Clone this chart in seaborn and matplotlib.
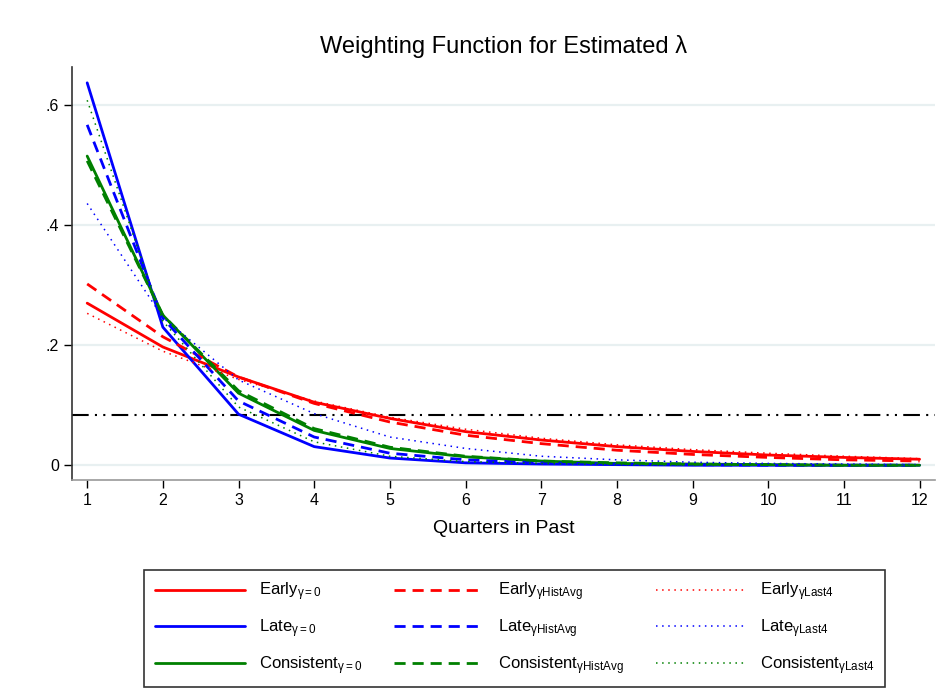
import matplotlib
matplotlib.use("Agg")
import matplotlib.pyplot as plt
import matplotlib.font_manager as fm
import seaborn as sns
import pandas as pd

# Quarters back in time
quarters = [1, 2, 3, 4, 5, 6, 7, 8, 9, 10, 11, 12]

# Weights by investor group, under three gamma assumptions
early_g0 = [0.270, 0.197, 0.147, 0.105, 0.078, 0.056, 0.042, 0.031, 0.023, 0.017, 0.013, 0.010]
early_hist = [0.302, 0.214, 0.147, 0.103, 0.072, 0.050, 0.036, 0.025, 0.018, 0.013, 0.009, 0.007]
early_last4 = [0.253, 0.190, 0.143, 0.107, 0.080, 0.060, 0.045, 0.034, 0.026, 0.020, 0.015, 0.011]

late_g0 = [0.637, 0.230, 0.085, 0.031, 0.012, 0.004, 0.002, 0.001, 0.000, 0.000, 0.000, 0.000]
late_hist = [0.567, 0.245, 0.107, 0.047, 0.020, 0.009, 0.004, 0.002, 0.001, 0.000, 0.000, 0.000]
late_last4 = [0.436, 0.246, 0.142, 0.086, 0.047, 0.028, 0.015, 0.009, 0.005, 0.003, 0.002, 0.001]

cons_g0 = [0.515, 0.250, 0.120, 0.058, 0.028, 0.014, 0.007, 0.003, 0.002, 0.001, 0.000, 0.000]
cons_hist = [0.507, 0.250, 0.124, 0.061, 0.030, 0.015, 0.007, 0.004, 0.002, 0.001, 0.000, 0.000]
cons_last4 = [0.608, 0.240, 0.097, 0.039, 0.015, 0.006, 0.003, 0.001, 0.000, 0.000, 0.000, 0.000]

uniform_weight = 1 / 12

title = "Weighting Function for Estimated λ"
xlabel = "Quarters in Past"
ytick_vals = [0, 0.2, 0.4, 0.6]
ytick_labels = ["0", ".2", ".4", ".6"]

sns.set_theme(style="white")
installed = {f.name for f in fm.fontManager.ttflist}
base_font = "Liberation Sans Narrow" if "Liberation Sans Narrow" in installed else "Liberation Sans"
plt.rcParams["font.family"] = [base_font, "DejaVu Sans"]
plt.rcParams["mathtext.fontset"] = "custom"
plt.rcParams["mathtext.rm"] = base_font
plt.rcParams["mathtext.it"] = base_font
plt.rcParams["mathtext.default"] = "regular"
plt.rcParams["text.color"] = "black"
plt.rcParams["axes.labelcolor"] = "black"

fig = plt.figure(figsize=(9.48, 6.93), dpi=100)
ax = fig.add_axes([0.076, 0.307, 0.910, 0.596])

dash = (0, (4, 2.5))
dot = (0, (1, 3))
series = [
    ("Early", "$_{\\gamma{=}0}$", early_g0, "#ff0000", "-", 2.0),
    ("Late", "$_{\\gamma{=}0}$", late_g0, "#0000ff", "-", 2.0),
    ("Consistent", "$_{\\gamma{=}0}$", cons_g0, "#008000", "-", 2.0),
    ("Early", "$_{\\gamma HistAvg}$", early_hist, "#ff0000", dash, 2.0),
    ("Late", "$_{\\gamma HistAvg}$", late_hist, "#0000ff", dash, 2.0),
    ("Consistent", "$_{\\gamma HistAvg}$", cons_hist, "#008000", dash, 2.0),
    ("Early", "$_{\\gamma Last4}$", early_last4, "#ff0000", dot, 1.1),
    ("Late", "$_{\\gamma Last4}$", late_last4, "#0000ff", dot, 1.1),
    ("Consistent", "$_{\\gamma Last4}$", cons_last4, "#008000", dot, 1.1),
]

for grid_y in ytick_vals:
    ax.axhline(grid_y, color="#e8f0f1", lw=1.6, zorder=0)

ax.axhline(uniform_weight, color="black", lw=1.5,
           linestyle=(0, (8, 3, 1, 3, 1, 3)), zorder=1)

handles = []
labels = []
for name, sub, vals, color, ls, lw in series:
    df = pd.DataFrame({"quarter": quarters, "weight": vals})
    sns.lineplot(data=df, x="quarter", y="weight", ax=ax, color=color,
                 linestyle=ls, lw=lw, zorder=3)
    line = ax.get_lines()[-1]
    handles.append(line)
    labels.append(name + sub)

ax.set_xlim(0.8, 12.2)
ax.set_ylim(-0.025, 0.663)
ax.set_xticks(quarters)
ax.set_yticks(ytick_vals)
ax.set_yticklabels(ytick_labels)
ax.tick_params(axis="both", which="both", length=6, width=1, colors="black",
               labelsize=11.5, direction="out", bottom=True, left=True)
ax.set_xlabel(xlabel, fontsize=14, labelpad=8)
ax.set_ylabel("")
ax.set_title(title, fontsize=17, pad=10)

for side in ["top", "right"]:
    ax.spines[side].set_visible(False)
ax.spines["left"].set_color("#333333")
ax.spines["bottom"].set_color("#999999")
ax.spines["left"].set_linewidth(1.2)
ax.spines["bottom"].set_linewidth(1.2)

leg = fig.legend(handles, labels, ncol=3, loc="lower center",
                 bbox_to_anchor=(0.543, 0.008), fontsize=12,
                 handlelength=5.4, handletextpad=0.85, columnspacing=1.9,
                 labelspacing=0.85, frameon=True, fancybox=False,
                 borderpad=0.65, borderaxespad=0)
leg.get_frame().set_edgecolor("black")
leg.get_frame().set_linewidth(1.2)

fig.savefig("out.png", dpi=100)
